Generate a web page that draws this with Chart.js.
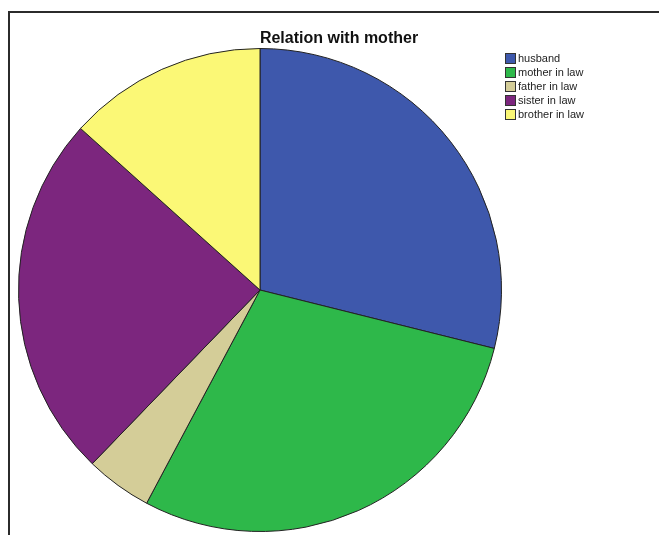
<!DOCTYPE html>
<html>
<head>
<meta charset="utf-8">
<script src="https://cdn.jsdelivr.net/npm/chart.js@4.4.1/dist/chart.umd.min.js"></script>
<style>
  html, body { margin: 0; padding: 0; background: #fff; overflow: hidden; }
  #frame {
    position: absolute; left: 8px; top: 11px; width: 700px; height: 600px;
    border-top: 2px solid #2b2b2b; border-left: 2px solid #2b2b2b;
  }
  #wrap { position: absolute; left: 0; top: 0; width: 659px; height: 545px; }
</style>
</head>
<body>
<div id="frame"></div>
<div id="wrap"><canvas id="myChart" width="659" height="545"></canvas></div>
<script>
var labels = ['husband', 'mother in law', 'father in law', 'sister in law', 'brother in law'];
var counts = [13, 13, 2, 11, 6];
var colors = ['#3e58ac', '#2eb84a', '#d4cd98', '#7c267e', '#fbf876'];
var titleText = 'Relation with mother';

// title + legend drawn at fixed spots, like the SPSS output
var sideText = {
  id: 'sideText',
  afterDraw: function (chart) {
    var c = chart.ctx;
    c.save();
    c.fillStyle = '#111';
    c.font = 'bold 16px "Liberation Sans", Arial, sans-serif';
    c.textAlign = 'center';
    c.textBaseline = 'alphabetic';
    c.fillText(titleText, 339, 43);

    c.font = '11px "Liberation Sans", Arial, sans-serif';
    c.textAlign = 'left';
    c.textBaseline = 'middle';
    chart.data.labels.forEach(function (lab, i) {
      var y = 58 + i * 14;
      c.fillStyle = chart.data.datasets[0].backgroundColor[i];
      c.fillRect(505, y - 5, 10, 10);
      c.strokeStyle = '#333';
      c.lineWidth = 1;
      c.strokeRect(505.5, y - 4.5, 10, 10);
      c.fillStyle = '#222';
      c.fillText(lab, 518, y + 0.5);
    });
    c.restore();
  }
};

var ctx = document.getElementById('myChart').getContext('2d');
var myChart = new Chart(ctx, {
  type: 'pie',
  data: {
    labels: labels,
    datasets: [{
      data: counts,
      backgroundColor: colors,
      borderColor: '#222',
      borderWidth: 1
    }]
  },
  plugins: [sideText],
  options: {
    responsive: false,
    animation: false,
    layout: { padding: { left: 18, right: 157, top: 48, bottom: 13 } },
    plugins: {
      legend: { display: false },
      title: { display: false },
      tooltip: { enabled: false }
    }
  }
});
</script>
</body>
</html>
